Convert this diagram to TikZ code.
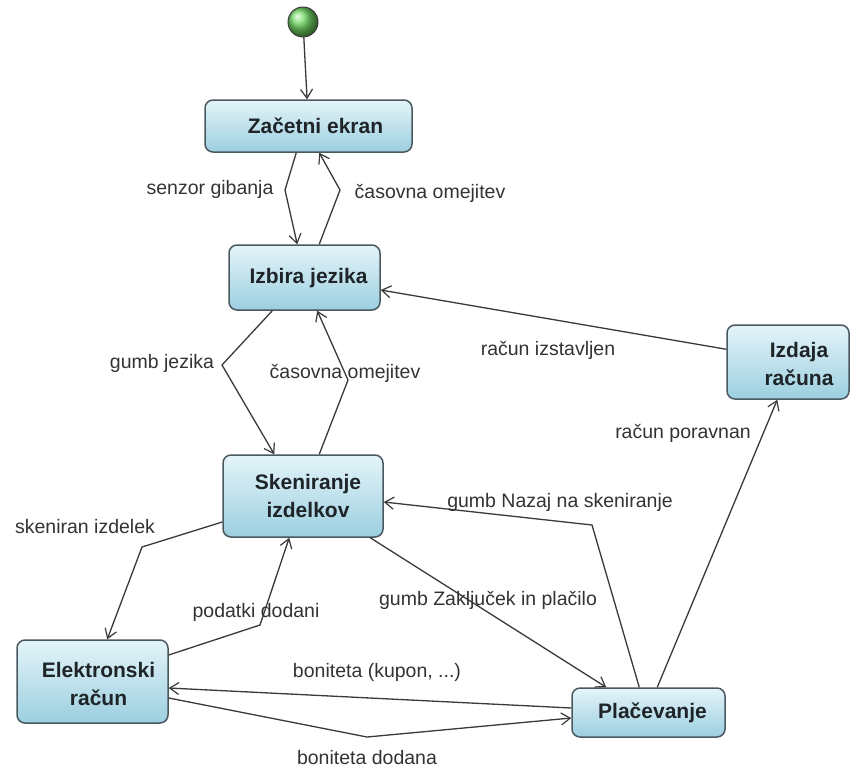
\documentclass[tikz,border=0pt]{standalone}
\usepackage{fontspec}
\setmainfont{Liberation Sans}
\usetikzlibrary{arrows.meta,shadings}
\definecolor{edgegray}{HTML}{3A3A3A}
\definecolor{boxborder}{HTML}{4A5860}
\definecolor{boxtop}{HTML}{E4F4F9}
\definecolor{boxbottom}{HTML}{9CCFE0}
\definecolor{labelgray}{HTML}{333333}
\definecolor{textdark}{HTML}{1E2428}
\definecolor{startgreen}{HTML}{72D864}
\begin{document}
\begin{tikzpicture}[x=1pt,y=-1pt,
  statebox/.style={draw=boxborder,line width=1.5pt,rounded corners=8pt,
    top color=boxtop,bottom color=boxbottom,inner sep=0pt},
  statetext/.style={font=\fontsize{21}{28}\selectfont\bfseries,text=textdark,
    align=center,inner sep=0pt},
  startnode/.style={circle,draw=edgegray,line width=1pt,ball color=startgreen,
    minimum size=30pt,inner sep=0pt},
  trans/.style={draw=edgegray,line width=1.3pt,
    -{Straight Barb[length=9pt,width=12pt,line width=1.2pt]}},
  translabel/.style={font=\fontsize{19.5}{22}\selectfont,text=labelgray,inner sep=0pt}]
\useasboundingbox[fill=white] (0,0) rectangle (851,769);

% states
\node[startnode] (init) at (303,22) {};
\node[statebox,minimum width=207pt,minimum height=52pt] (zac) at (308.5,126) {};
\node[statebox,minimum width=151pt,minimum height=65pt] (izb) at (304.5,277.5) {};
\node[statebox,minimum width=122pt,minimum height=74pt] (izd) at (788,362) {};
\node[statebox,minimum width=160pt,minimum height=82pt] (ske) at (303,496) {};
\node[statebox,minimum width=151pt,minimum height=83pt] (ele) at (92.5,681.5) {};
\node[statebox,minimum width=153pt,minimum height=49pt] (pla) at (648.5,712.5) {};

\node[statetext] (zact) at (315.5,126) {Začetni ekran};
\node[statetext] (izbt) at (308.5,278) {Izbira jezika};
\node[statetext] (izdt) at (799,364) {Izdaja\\računa};
\node[statetext] (sket) at (308,496) {Skeniranje\\izdelkov};
\node[statetext] (elet) at (98.5,684) {Elektronski\\račun};
\node[statetext] (plat) at (652.5,713) {Plačevanje};

% transitions
\draw[trans] (init) -- (zac);
\draw[trans] ([xshift=92pt]zac.south west) -- (285,190) -- ([xshift=69pt]izb.north west);
\draw[trans] ([xshift=91pt]izb.north west) -- (340,190) -- ([xshift=115pt]zac.south west);
\draw[trans] ([xshift=44pt]izb.south west) -- (222,365) -- ([xshift=52pt]ske.north west);
\draw[trans] ([xshift=97pt]ske.north west) -- (348,380) -- ([xshift=89pt]izb.south west);
\draw[trans] ([yshift=-25pt]izd.north west) -- ([yshift=-12.5pt]izb.east);
\draw[trans] ([xshift=86pt]pla.north west) -- ([xshift=51pt]izd.south west);
\draw[trans] ([xshift=68pt]pla.north west) -- (592,525) -- ([yshift=-6pt]ske.east);
\draw[trans] ([xshift=148pt]ske.south west) -- ([xshift=35pt]pla.north west);
\draw[trans] ([yshift=-26pt]ske.west) -- (142,547) -- ([xshift=91pt]ele.north west);
\draw[trans] ([yshift=26.5pt]ele.east) -- (260,625) -- ([xshift=67pt]ske.south west);
\draw[trans] ([yshift=4.5pt]pla.west) -- ([yshift=-6.5pt]ele.east);
\draw[trans] ([yshift=-16.5pt]ele.east) -- (367,737) -- ([yshift=-5.5pt]pla.west);

% transition labels
\node[translabel] (l1) at (210,189) {senzor gibanja};
\node[translabel] (l2) at (430,193) {časovna omejitev};
\node[translabel] (l3) at (162,363) {gumb jezika};
\node[translabel] (l4) at (345,373) {časovna omejitev};
\node[translabel] (l5) at (548,350) {račun izstavljen};
\node[translabel] (l6) at (683,433) {račun poravnan};
\node[translabel] (l7) at (560,502) {gumb Nazaj na skeniranje};
\node[translabel] (l8) at (488,600) {gumb Zaključek in plačilo};
\node[translabel] (l9) at (85,527) {skeniran izdelek};
\node[translabel] (l10) at (256,612) {podatki dodani};
\node[translabel] (l11) at (377,672) {boniteta (kupon, ...)};
\node[translabel] (l12) at (367,758) {boniteta dodana};
\end{tikzpicture}
\end{document}
